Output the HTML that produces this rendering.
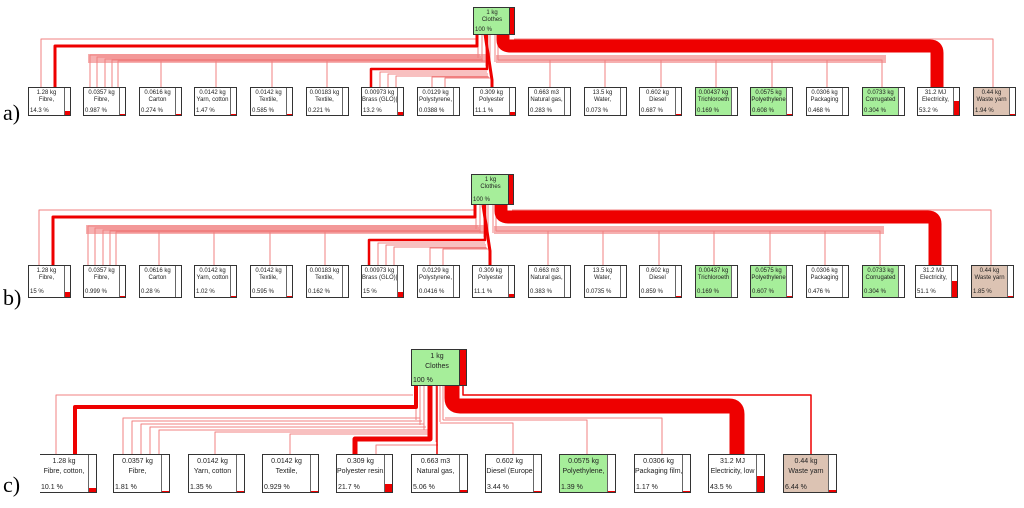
<!DOCTYPE html>
<html><head><meta charset="utf-8"><style>
body{margin:0;width:1024px;height:508px;background:#fff;position:relative;overflow:hidden;font-family:"Liberation Sans",sans-serif}
svg{position:absolute;left:0;top:0}
.b{position:absolute;box-sizing:border-box;border:1.5px solid #333;background:#fff;font-size:6px;color:#222;overflow:hidden}
.b .t{position:absolute;left:0;right:6px;top:2px;text-align:center;line-height:7px;white-space:nowrap}
.b .p{position:absolute;left:1px;bottom:1px;white-space:nowrap}
.b .bar{position:absolute;right:0;top:0;bottom:0;width:5px;border-left:1px solid #666;background:#fff}
.bar i{position:absolute;left:0;right:0;bottom:0;background:#e00;min-height:1px}
.g{background:#a6ee9a}.w{background:#dcc3b3}
.ra{top:87px;width:43px;height:29px}
.rb{top:265px;width:43px;height:33px}
.rb .p{bottom:2px}
.rc{top:454px;width:57px;height:39px;font-size:7px}
.rc .t{line-height:10px;top:2px;right:8px}
.rc .bar{width:7px}
.lab{position:absolute;left:3px;font:22px "Liberation Serif",serif}
.cl{position:absolute;box-sizing:border-box;border:1px solid #333;background:#a6ee9a;font-size:6px;color:#222}
.cl .bar{position:absolute;right:0;top:0;bottom:0;width:4px;background:#e00;border-left:1px solid #333}
.cl .t{position:absolute;left:0;right:4px;top:2px;text-align:center;line-height:7px}
.cl .p{position:absolute;left:1px;bottom:1px}
</style></head><body>
<svg width="1024" height="508" fill="none" stroke-linejoin="round">
<defs>
<g id="conn">
<rect x="88" y="54" width="400" height="9" fill="#f6b0b0" stroke="none"/>
<rect x="496" y="55" width="390" height="8" fill="#f6b0b0" stroke="none"/>
<g stroke="#f08080" stroke-width="1">
<path d="M41 100V39H476"/>
<path d="M90 100V55H480M97 100V57H481M105 100V59H482M112 100V60H483M118 100V61H484"/>
<path d="M161 100V61H485M216 100V61H485M272 100V61H486M327 100V61H486"/>
<path d="M380 100V72H487M388 100V74H488M396 100V76H488M432 100V77H489M445 100V78H490"/>
<path d="M550 100V60H498M605 100V60H498M661 100V60H498M716 100V60H498M772 100V60H498M827 100V60H498M882 100V60H498"/>
<path d="M514 39H993V100"/>
<path d="M478 34V58M482 34V62M486 34V66M490 34V70M495 34V62M498 34V60"/>
</g>
<g stroke="#e00">
<path d="M55 100V46H477V34" stroke-width="3"/>
<path d="M371 100V69H487V34" stroke-width="2.5"/>
<path d="M485 34L492 80V100" stroke-width="3"/>
<path d="M503 34V40Q503 46 510 46H930Q937 46 937 53V100" stroke-width="13"/>
</g>
</g>
</defs>
<use href="#conn"/>
<use href="#conn" transform="translate(-2,171)"/>
<!-- row c -->
<g stroke="#f08080" stroke-width="1">
<path d="M56 460V395H413"/>
<path d="M123 460V418H420M132 460V421H422M141 460V424H424M150 460V427H426M159 460V430H428"/>
<path d="M215 460V432H430M290 460V434H432M376 460V445H438"/>
<path d="M513 460V423H440M587 460V420H443M662 460V418H445"/>
<path d="M416 386V420M420 386V425M424 386V430M428 386V434M432 386V438M436 386V442M440 386V422M443 386V420"/>
</g>
<g stroke="#e00">
<path d="M463 386V395H811V460" stroke-width="1.5"/>
<path d="M75 460V407H416V386" stroke-width="4"/>
<path d="M355 460V439H430V386" stroke-width="5"/>
<path d="M437 460V386" stroke-width="1.5"/>
<path d="M452 386V398Q452 406 460 406H729Q737 406 737 414V460" stroke-width="15"/>
</g>
</svg>

<div class="cl" style="left:473px;top:7px;width:42px;height:28px"><div class="t">1 kg<br>Clothes</div><div class="p">100 %</div><div class="bar"></div></div>
<div class="cl" style="left:471px;top:174px;width:43px;height:31px"><div class="t">1 kg<br>Clothes</div><div class="p">100 %</div><div class="bar"></div></div>
<div class="cl" style="left:411px;top:349px;width:56px;height:37px;font-size:7px"><div class="t" style="line-height:10px">1 kg<br>Clothes</div><div class="p">100 %</div><div class="bar" style="width:6px"></div></div>

<div class="lab" style="top:100px">a)</div>
<div class="lab" style="top:285px">b)</div>
<div class="lab" style="top:472px">c)</div>

<!-- row a -->
<div class="b ra" style="left:28px"><div class="t">1.28 kg<br>Fibre,</div><div class="p">14.3 %</div><div class="bar"><i style="height:14%"></i></div></div>
<div class="b ra" style="left:83px"><div class="t">0.0357 kg<br>Fibre,</div><div class="p">0.987 %</div><div class="bar"><i></i></div></div>
<div class="b ra" style="left:139px"><div class="t">0.0616 kg<br>Carton</div><div class="p">0.274 %</div><div class="bar"><i></i></div></div>
<div class="b ra" style="left:194px"><div class="t">0.0142 kg<br>Yarn, cotton</div><div class="p">1.47 %</div><div class="bar"><i></i></div></div>
<div class="b ra" style="left:250px"><div class="t">0.0142 kg<br>Textile,</div><div class="p">0.585 %</div><div class="bar"><i></i></div></div>
<div class="b ra" style="left:306px"><div class="t">0.00183 kg<br>Textile,</div><div class="p">0.221 %</div><div class="bar"></div></div>
<div class="b ra" style="left:361px"><div class="t">0.00973 kg<br>Brass (GLO)|</div><div class="p">13.2 %</div><div class="bar"><i style="height:13%"></i></div></div>
<div class="b ra" style="left:417px"><div class="t">0.0129 kg<br>Polystyrene,</div><div class="p">0.0388 %</div><div class="bar"></div></div>
<div class="b ra" style="left:473px"><div class="t">0.309 kg<br>Polyester</div><div class="p">11.1 %</div><div class="bar"><i style="height:11%"></i></div></div>
<div class="b ra" style="left:528px"><div class="t">0.663 m3<br>Natural gas,</div><div class="p">0.283 %</div><div class="bar"></div></div>
<div class="b ra" style="left:584px"><div class="t">13.5 kg<br>Water,</div><div class="p">0.073 %</div><div class="bar"></div></div>
<div class="b ra" style="left:639px"><div class="t">0.602 kg<br>Diesel</div><div class="p">0.687 %</div><div class="bar"><i></i></div></div>
<div class="b ra g" style="left:695px"><div class="t">0.00437 kg<br>Trichloroeth</div><div class="p">0.169 %</div><div class="bar"></div></div>
<div class="b ra g" style="left:750px"><div class="t">0.0575 kg<br>Polyethylene</div><div class="p">0.608 %</div><div class="bar"><i></i></div></div>
<div class="b ra" style="left:806px"><div class="t">0.0306 kg<br>Packaging</div><div class="p">0.468 %</div><div class="bar"></div></div>
<div class="b ra g" style="left:862px"><div class="t">0.0733 kg<br>Corrugated</div><div class="p">0.304 %</div><div class="bar"></div></div>
<div class="b ra" style="left:917px"><div class="t">31.2 MJ<br>Electricity,</div><div class="p">53.2 %</div><div class="bar"><i style="height:53%"></i></div></div>
<div class="b ra w" style="left:973px"><div class="t">0.44 kg<br>Waste yarn</div><div class="p">1.94 %</div><div class="bar"><i></i></div></div>

<!-- row b -->
<div class="b rb" style="left:28px"><div class="t">1.28 kg<br>Fibre,</div><div class="p">15 %</div><div class="bar"><i style="height:15%"></i></div></div>
<div class="b rb" style="left:83px"><div class="t">0.0357 kg<br>Fibre,</div><div class="p">0.999 %</div><div class="bar"><i></i></div></div>
<div class="b rb" style="left:139px"><div class="t">0.0616 kg<br>Carton</div><div class="p">0.28 %</div><div class="bar"></div></div>
<div class="b rb" style="left:194px"><div class="t">0.0142 kg<br>Yarn, cotton</div><div class="p">1.02 %</div><div class="bar"><i></i></div></div>
<div class="b rb" style="left:250px"><div class="t">0.0142 kg<br>Textile,</div><div class="p">0.595 %</div><div class="bar"><i></i></div></div>
<div class="b rb" style="left:306px"><div class="t">0.00183 kg<br>Textile,</div><div class="p">0.162 %</div><div class="bar"></div></div>
<div class="b rb" style="left:361px"><div class="t">0.00973 kg<br>Brass (GLO)|</div><div class="p">15 %</div><div class="bar"><i style="height:15%"></i></div></div>
<div class="b rb" style="left:417px"><div class="t">0.0129 kg<br>Polystyrene,</div><div class="p">0.0416 %</div><div class="bar"></div></div>
<div class="b rb" style="left:472px"><div class="t">0.309 kg<br>Polyester</div><div class="p">11.1 %</div><div class="bar"><i style="height:11%"></i></div></div>
<div class="b rb" style="left:528px"><div class="t">0.663 m3<br>Natural gas,</div><div class="p">0.383 %</div><div class="bar"></div></div>
<div class="b rb" style="left:584px"><div class="t">13.5 kg<br>Water,</div><div class="p">0.0735 %</div><div class="bar"></div></div>
<div class="b rb" style="left:639px"><div class="t">0.602 kg<br>Diesel</div><div class="p">0.859 %</div><div class="bar"><i></i></div></div>
<div class="b rb g" style="left:695px"><div class="t">0.00437 kg<br>Trichloroeth</div><div class="p">0.169 %</div><div class="bar"></div></div>
<div class="b rb g" style="left:750px"><div class="t">0.0575 kg<br>Polyethylene</div><div class="p">0.607 %</div><div class="bar"><i></i></div></div>
<div class="b rb" style="left:806px"><div class="t">0.0306 kg<br>Packaging</div><div class="p">0.476 %</div><div class="bar"></div></div>
<div class="b rb g" style="left:862px"><div class="t">0.0733 kg<br>Corrugated</div><div class="p">0.304 %</div><div class="bar"></div></div>
<div class="b rb" style="left:915px"><div class="t">31.2 MJ<br>Electricity,</div><div class="p">51.1 %</div><div class="bar"><i style="height:51%"></i></div></div>
<div class="b rb w" style="left:971px"><div class="t">0.44 kg<br>Waste yarn</div><div class="p">1.85 %</div><div class="bar"><i></i></div></div>

<!-- row c -->
<div class="b rc" style="left:40px;border-left:none"><div class="t">1.28 kg<br>Fibre, cotton,</div><div class="p">10.1 %</div><div class="bar"><i style="height:10%"></i></div></div>
<div class="b rc" style="left:113px"><div class="t">0.0357 kg<br>Fibre,</div><div class="p">1.81 %</div><div class="bar"><i></i></div></div>
<div class="b rc" style="left:188px"><div class="t">0.0142 kg<br>Yarn, cotton</div><div class="p">1.35 %</div><div class="bar"><i></i></div></div>
<div class="b rc" style="left:262px"><div class="t">0.0142 kg<br>Textile,</div><div class="p">0.929 %</div><div class="bar"><i></i></div></div>
<div class="b rc" style="left:336px"><div class="t">0.309 kg<br>Polyester resin,</div><div class="p">21.7 %</div><div class="bar"><i style="height:22%"></i></div></div>
<div class="b rc" style="left:411px"><div class="t">0.663 m3<br>Natural gas,</div><div class="p">5.06 %</div><div class="bar"><i style="height:5%"></i></div></div>
<div class="b rc" style="left:485px"><div class="t">0.602 kg<br>Diesel (Europe</div><div class="p">3.44 %</div><div class="bar"><i style="height:3%"></i></div></div>
<div class="b rc g" style="left:559px"><div class="t">0.0575 kg<br>Polyethylene,</div><div class="p">1.39 %</div><div class="bar"><i></i></div></div>
<div class="b rc" style="left:634px"><div class="t">0.0306 kg<br>Packaging film,</div><div class="p">1.17 %</div><div class="bar"><i></i></div></div>
<div class="b rc" style="left:708px"><div class="t">31.2 MJ<br>Electricity, low</div><div class="p">43.5 %</div><div class="bar"><i style="height:43%"></i></div></div>
<div class="b rc w" style="left:783px;width:54px"><div class="t">0.44 kg<br>Waste yarn</div><div class="p">6.44 %</div><div class="bar"><i style="height:6%"></i></div></div>
</body></html>
